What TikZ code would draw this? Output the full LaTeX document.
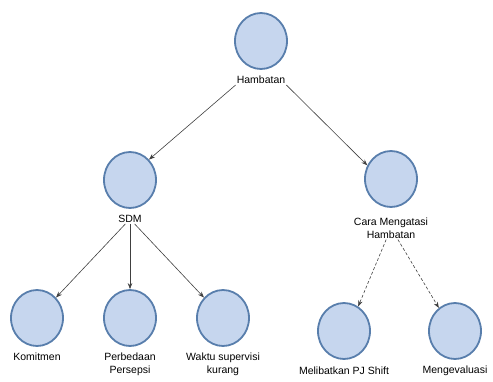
\documentclass[tikz,border=0pt]{standalone}
\usepackage{fontspec}
\setmainfont{Liberation Sans}
\usetikzlibrary{arrows.meta,shapes.geometric}
\definecolor{bubble}{RGB}{198,214,238}
\definecolor{rim}{RGB}{88,126,172}

\begin{document}
\begin{tikzpicture}
				[x=1pt,y=-1pt,every node/.style={font=\fontsize{10.5}{13}\selectfont,align=center,inner sep=1pt},
				bub/.style={ellipse,draw=rim,line width=1.8pt,fill=bubble,minimum width=52pt,minimum height=56pt,inner sep=0pt},
				link/.style={-{Stealth[length=6pt,width=4.5pt]},draw=black!75,line width=0.6pt}]
				\useasboundingbox (0,0) rectangle (493,381);
				\node[bub] (n1) at (261,41) {};
				\node (t1) at (261,80) {Hambatan};
				\node[bub] (n2) at (130,180) {};
				\node (t2) at (130,219) {SDM};
				\node[bub] (n3) at (391,179) {};
				\node (t3) at (391,228) {Cara Mengatasi\\Hambatan};
				\node[bub] (n4) at (37,318) {};
				\node (t4) at (37,357) {Komitmen};
				\node[bub] (n5) at (130,318) {};
				\node (t5) at (130,364) {Perbedaan\\Persepsi};
				\node[bub] (n6) at (223,318) {};
				\node (t6) at (223,364) {Waktu supervisi\\kurang};
				\node[bub] (n7) at (344,331) {};
				\node (t7) at (344,371) {Melibatkan PJ Shift};
				\node[bub] (n8) at (455,331) {};
				\node (t8) at (455,371) {Mengevaluasi};
				
				\foreach \from/\to in {t1.south west/n2.north east,t1.south east/n3.150,t2/n4.north east,t2/n5,t2/n6.north west}
				\draw[link] (\from) -- (\to);
				\foreach \from/\to in {t3/n7.60,t3/n8.125}
				\draw[link,densely dashed] (\from) -- (\to);
				\end{tikzpicture}
\end{document}
